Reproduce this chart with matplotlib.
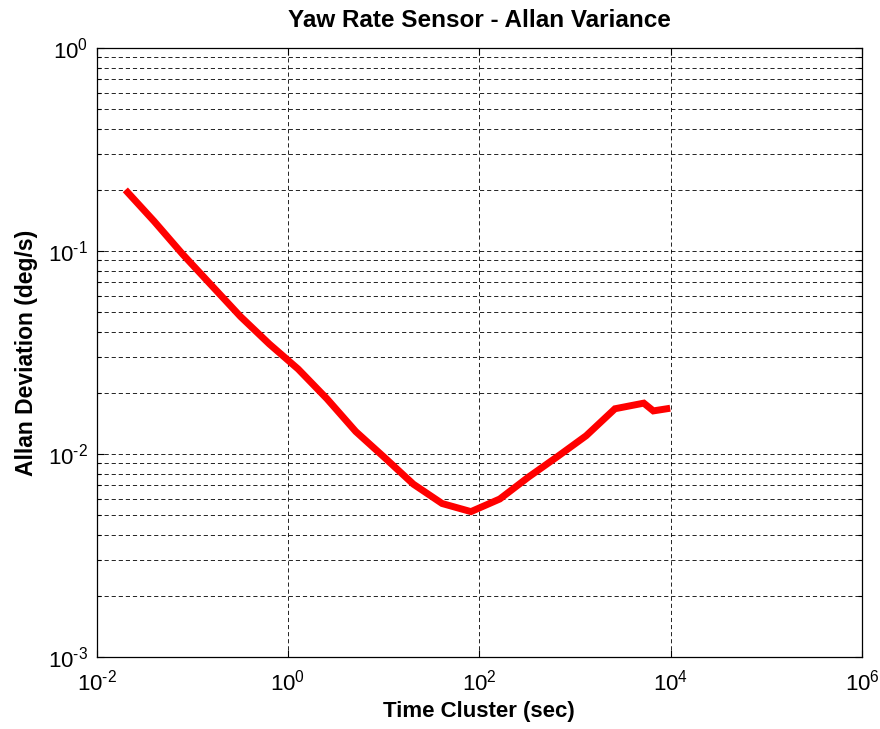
import numpy as np
import matplotlib
matplotlib.use('Agg')
import matplotlib.pyplot as plt
from matplotlib.ticker import LogLocator, FixedLocator, NullLocator, NullFormatter

plt.rcParams['font.family'] = ['Liberation Sans', 'DejaVu Sans']
plt.rcParams['mathtext.fontset'] = 'custom'
plt.rcParams['mathtext.rm'] = 'Liberation Sans'
plt.rcParams['mathtext.it'] = 'Liberation Sans'

# Allan deviation
tau = [0.02, 0.04, 0.08, 0.16, 0.32, 0.64, 1.28, 2.56, 5.12, 10.24,
       20.48, 40.96, 81.92, 163.84, 327.68, 655.36, 1310.72, 2621.44,
       5242.88, 6600.0, 9900.0]
adev = [0.200, 0.140, 0.0960, 0.0675, 0.0475, 0.0348, 0.0262, 0.0187,
        0.0129, 0.0096, 0.0071, 0.0057, 0.0052, 0.0060, 0.0077, 0.0097,
        0.0123, 0.0167, 0.0178, 0.0163, 0.0168]

x_ticks = [1e-2, 1e0, 1e2, 1e4, 1e6]
x_ticklabels = [r'$10^{\text{-2}}$', r'$10^{0}$', r'$10^{2}$', r'$10^{4}$', r'$10^{6}$']
y_ticks = [1e-3, 1e-2, 1e-1, 1e0]
y_ticklabels = [r'$10^{\text{-3}}$', r'$10^{\text{-2}}$', r'$10^{\text{-1}}$', r'$10^{0}$']

fig = plt.figure(figsize=(8.8, 7.29), dpi=100)
ax = fig.add_axes([0.1097, 0.0988, 0.8698, 0.8354])

ax.loglog(tau, adev, color='#ff0000', lw=5.0, solid_joinstyle='miter',
          solid_capstyle='butt', zorder=3)

ax.set_xlim(1e-2, 1e6)
ax.set_ylim(1e-3, 1e0)

ax.xaxis.set_major_locator(FixedLocator(x_ticks))
ax.xaxis.set_minor_locator(NullLocator())
ax.set_xticklabels(x_ticklabels, fontsize=16)
ax.yaxis.set_major_locator(FixedLocator(y_ticks))
ax.yaxis.set_minor_locator(LogLocator(base=10, subs=np.arange(2, 10)))
ax.yaxis.set_minor_formatter(NullFormatter())
ax.set_yticklabels(y_ticklabels, fontsize=16)

dash = (0, (5, 3.5))
ax.grid(True, which='major', axis='both', color='black', lw=0.6, ls=dash)
ax.grid(True, which='minor', axis='y', color='black', lw=0.6, ls=dash)

ax.tick_params(which='both', direction='in', top=True, right=True,
               width=0.8, color='black')
ax.tick_params(which='major', length=5)
ax.tick_params(axis='x', which='major', pad=9)
ax.tick_params(axis='y', which='major', pad=6)
ax.tick_params(which='minor', length=3)
for s in ax.spines.values():
    s.set_linewidth(0.9)

ax.set_title('Yaw Rate Sensor - Allan Variance', fontsize=17.5,
             fontweight='bold', pad=15)
ax.set_xlabel('Time Cluster (sec)', fontsize=16, fontweight='bold', labelpad=4)
ax.set_ylabel('Allan Deviation (deg/s)', fontsize=16.5, fontweight='bold',
              labelpad=7)

fig.savefig('out.png', dpi=100)
